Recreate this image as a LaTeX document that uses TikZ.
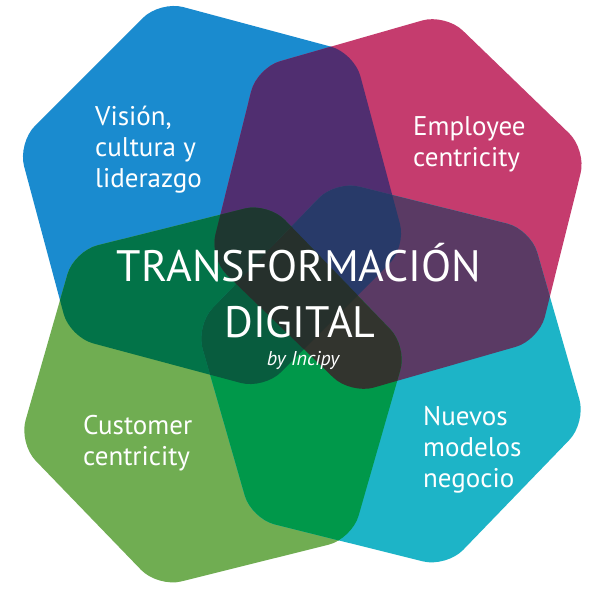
\documentclass[tikz,border=0pt]{standalone}
\usepackage{fontspec}
\setmainfont{PT Sans}

% base colours of the four hexagons
\definecolor{bluehex}{RGB}{26,139,207}
\definecolor{maghex}{RGB}{197,60,110}
\definecolor{grnhex}{RGB}{112,173,82}
\definecolor{cyahex}{RGB}{29,180,199}
% colours where they overlap
\definecolor{blumag}{RGB}{80,46,112}
\definecolor{blugrn}{RGB}{2,115,72}
\definecolor{blucya}{RGB}{30,100,150}
\definecolor{maggrn}{RGB}{60,68,60}
\definecolor{magcya}{RGB}{90,58,100}
\definecolor{grncya}{RGB}{0,152,74}
\definecolor{blumaggrn}{RGB}{30,55,48}
\definecolor{blumagcya}{RGB}{40,58,105}
\definecolor{blugrncya}{RGB}{8,92,62}
\definecolor{maggrncya}{RGB}{50,52,46}
\definecolor{allfour}{RGB}{38,48,44}

\begin{document}
\begin{tikzpicture}[
  x=1pt,
  y=-1pt,
  line join=round
]

  \useasboundingbox[fill=white] (0,0) rectangle (609,589);

  % styles for the texts
  \tikzset{
    sidetext/.style={text=white, align=left, inner sep=0pt, anchor=west,
      font=\fontsize{27}{31}\selectfont},
    headtext/.style={text=white, inner sep=0pt, anchor=base,
      font=\fontsize{44}{50}\selectfont},
    bytext/.style={text=white, inner sep=0pt, anchor=base,
      font=\fontsize{20}{24}\selectfont\itshape}
  }

  % helper macros
  \def\hexagon#1#2#3{%
    [shift={(#1)}, rounded corners=24pt]
    (#2:#3) -- ({#2+60}:#3) -- ({#2+120}:#3) -- ({#2+180}:#3)
    -- ({#2+240}:#3) -- ({#2+300}:#3) -- cycle
  }

  \def\hexblu{\hexagon{212,195}{15}{201}}
  \def\hexmag{\hexagon{398,204}{-16}{196}}
  \def\hexgrn{\hexagon{213,395}{-14}{200}}
  \def\hexcya{\hexagon{391,374}{14}{201}}

  % the four hexagons
  \fill[bluehex] \hexblu;
  \fill[maghex] \hexmag;
  \fill[grnhex] \hexgrn;
  \fill[cyahex] \hexcya;

  % two at a time
  \foreach \a/\b/\col in {\hexblu/\hexmag/blumag, \hexblu/\hexgrn/blugrn,
      \hexblu/\hexcya/blucya, \hexmag/\hexgrn/maggrn,
      \hexmag/\hexcya/magcya, \hexgrn/\hexcya/grncya} {
    \begin{scope}
      \clip \a;
      \fill[\col] \b;
    \end{scope}
  }

  % three at a time
  \foreach \a/\b/\d/\col in {\hexblu/\hexmag/\hexgrn/blumaggrn,
      \hexblu/\hexmag/\hexcya/blumagcya, \hexblu/\hexgrn/\hexcya/blugrncya,
      \hexmag/\hexgrn/\hexcya/maggrncya} {
    \begin{scope}
      \clip \a;
      \clip \b;
      \fill[\col] \d;
    \end{scope}
  }

  % all four
  \begin{scope}
    \clip \hexblu;
    \clip \hexmag;
    \clip \hexgrn;
    \fill[allfour] \hexcya;
  \end{scope}

  % texts
  \node[sidetext] (vision) at (95,150) {Visión,\\cultura y\\liderazgo};
  \node[sidetext] (employee) at (413,144) {Employee\\centricity};
  \node[sidetext] (customer) at (83,443) {Customer\\centricity};
  \node[sidetext] (nuevos) at (423,450) {Nuevos\\modelos\\negocio};

  \node[headtext] (transf) at (299,281) {TRANSFORMACIÓN};
  \node[headtext] (digital) at (300,337) {DIGITAL};
  \node[bytext] (incipy) at (303,365) {by Incipy};

\end{tikzpicture}
\end{document}
